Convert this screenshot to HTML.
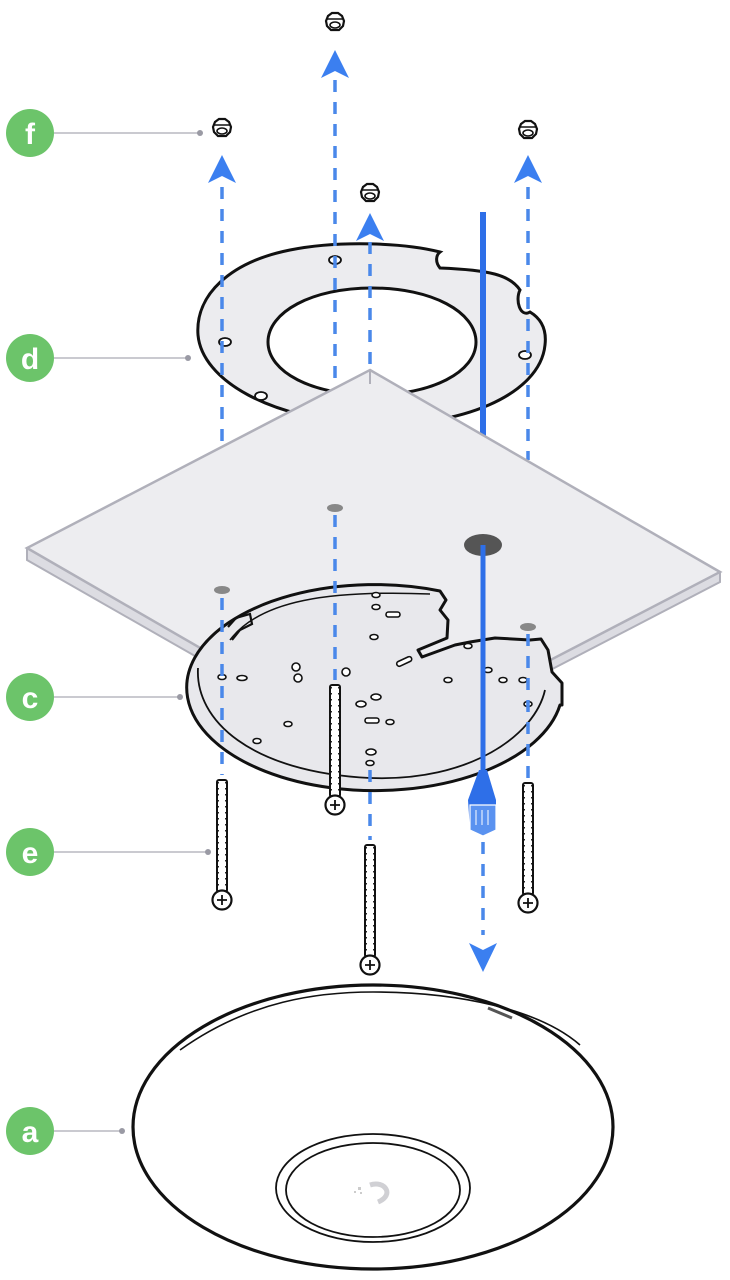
<!DOCTYPE html>
<html><head><meta charset="utf-8"><style>
html,body{margin:0;padding:0;background:#fff;}
svg{display:block;}
.lbl{font-family:"Liberation Sans",sans-serif;font-weight:bold;font-size:30px;fill:#fff;text-anchor:middle;}
</style></head><body>
<svg width="730" height="1280" viewBox="0 0 730 1280" xmlns="http://www.w3.org/2000/svg">
<defs>
<g id="nut">
<path d="M-9,-2 l2,-5 l4,-3 h6 l4,3 l2,5 l-1,5 l-4,4 h-8 l-4,-4z" fill="#fff" stroke="#111" stroke-width="2.2"/>
<ellipse cx="0" cy="2" rx="5" ry="3" fill="#fff" stroke="#111" stroke-width="1.6"/>
<line x1="-8" y1="-4" x2="8" y2="-4" stroke="#111" stroke-width="1.5"/>
</g>
<g id="screw">
<rect x="-5" y="0" width="10" height="112" rx="2" fill="#fff" stroke="#111" stroke-width="2"/>
<line x1="0" y1="2" x2="0" y2="110" stroke="#111" stroke-width="10" stroke-dasharray="1.5 4.5" opacity="0.9"/>
<line x1="0" y1="2" x2="0" y2="110" stroke="#fff" stroke-width="6" stroke-dasharray="3 3"/>
<circle cx="0" cy="120" r="9.5" fill="#fff" stroke="#111" stroke-width="2.2"/>
<path d="M-5,120h10M0,115v10" stroke="#111" stroke-width="1.8"/>
</g>
</defs>

<g stroke="#b8b8c0" stroke-width="1.5">
<line x1="54" y1="133" x2="200" y2="133"/>
<line x1="54" y1="358" x2="188" y2="358"/>
<line x1="54" y1="697" x2="180" y2="697"/>
<line x1="54" y1="852" x2="208" y2="852"/>
<line x1="54" y1="1131" x2="122" y2="1131"/>
</g>
<g fill="#9a9aa4"><circle cx="200" cy="133" r="3"/><circle cx="188" cy="358" r="3"/><circle cx="180" cy="697" r="3"/><circle cx="208" cy="852" r="3"/><circle cx="122" cy="1131" r="3"/></g>
<g fill="#6cc46a">
<circle cx="30" cy="133" r="24"/><circle cx="30" cy="358" r="24"/><circle cx="30" cy="697" r="24"/><circle cx="30" cy="852" r="24"/><circle cx="30" cy="1131" r="24"/>
</g>
<text class="lbl" x="30" y="144">f</text>
<text class="lbl" x="30" y="369">d</text>
<text class="lbl" x="30" y="708">c</text>
<text class="lbl" x="30" y="863">e</text>
<text class="lbl" x="30" y="1142">a</text>

<path fill-rule="evenodd" fill="#ececef" stroke="#111" stroke-width="3" d="M440,252 C405,243 340,240 290,250 C230,262 195,295 198,335 C202,380 270,420 370,424 C460,428 540,395 545,345 C547,328 540,318 530,312 C520,318 515,300 520,290 C510,275 490,270 440,268 C435,262 436,255 440,252 Z M372,288 C312,288 268,312 268,342 C268,372 312,395 372,395 C432,395 476,372 476,342 C476,312 432,288 372,288 Z"/>
<g fill="#fff" stroke="#111" stroke-width="1.8">
<ellipse cx="335" cy="260" rx="6" ry="4"/><ellipse cx="225" cy="342" rx="6" ry="4"/><ellipse cx="261" cy="396" rx="6" ry="4"/><ellipse cx="525" cy="355" rx="6" ry="4"/>
</g>

<g stroke="#4a88ea" stroke-width="3.5" stroke-dasharray="12 10">
<line x1="222" y1="187" x2="222" y2="450"/>
<line x1="335" y1="80" x2="335" y2="400"/>
<line x1="370" y1="242" x2="370" y2="380"/>
<line x1="528" y1="187" x2="528" y2="460"/>
</g>
<g fill="#3b7ff0">
<path d="M222,155 L208,183 L222,176 L236,183Z"/>
<path d="M335,50 L321,78 L335,71 L349,78Z"/>
<path d="M370,213 L356,241 L370,234 L384,241Z"/>
<path d="M528,155 L514,183 L528,176 L542,183Z"/>
</g>
<use href="#nut" x="222" y="129"/><use href="#nut" x="335" y="23"/><use href="#nut" x="370" y="194"/><use href="#nut" x="528" y="131"/>

<line x1="483" y1="212" x2="483" y2="440" stroke="#2e6fe8" stroke-width="6"/>

<path d="M27,548 L27,560 L377,760 L720,582 L720,572 Z" fill="#dcdce2" stroke="#b0b0ba" stroke-width="2"/>
<path d="M370,370 L720,572 L377,750 L27,548 Z" fill="#ededf0" stroke="#b0b0ba" stroke-width="2.5"/>
<path d="M370,370 L370,384" stroke="#b0b0ba" stroke-width="2"/>
<ellipse cx="483" cy="545" rx="19" ry="11" fill="#555"/>
<g fill="#888"><ellipse cx="335" cy="508" rx="8" ry="4"/><ellipse cx="222" cy="590" rx="8" ry="4"/><ellipse cx="528" cy="627" rx="8" ry="4"/></g>

<!-- mounting plate c -->
<path fill="#e8e8ec" stroke="#111" stroke-width="3" stroke-linejoin="round" d="M440,591 A188,103 0 1 0 560,705 L562,705 L562,683 L552,672 L548,650 L541,639 L530,640 L495,638 L470,642 L455,645 L422,657 L418,650 L447,638 L448,620 L440,610 L446,600 Z"/>
<path fill="none" stroke="#111" stroke-width="1.8" d="M198,668 C195,720 250,772 370,778 C470,782 535,735 545,690"/>
<path fill="none" stroke="#111" stroke-width="1.5" d="M230,640 C260,600 330,590 430,594"/>
<path fill="none" stroke="#111" stroke-width="2.2" d="M228,627 L236,618 L250,614 L252,624 L240,630 L232,640"/>
<g fill="#fff" stroke="#111" stroke-width="1.6">
<ellipse cx="376" cy="595" rx="4" ry="2.5"/><ellipse cx="376" cy="607" rx="4" ry="2.5"/><rect x="386" y="612" width="14" height="5" rx="2.5"/><ellipse cx="374" cy="637" rx="4" ry="2.5"/>
<ellipse cx="296" cy="667" rx="4" ry="4"/><ellipse cx="298" cy="678" rx="4" ry="4"/><ellipse cx="346" cy="672" rx="4" ry="4"/><ellipse cx="222" cy="677" rx="4" ry="2.5"/><ellipse cx="242" cy="678" rx="5" ry="2.5"/>
<ellipse cx="376" cy="697" rx="5" ry="3"/><ellipse cx="361" cy="704" rx="5" ry="3"/><rect x="365" y="718" width="14" height="5" rx="2.5"/><ellipse cx="390" cy="722" rx="4" ry="2.5"/><ellipse cx="288" cy="724" rx="4" ry="2.5"/><ellipse cx="257" cy="741" rx="4" ry="2.5"/><ellipse cx="371" cy="752" rx="5" ry="3"/><ellipse cx="370" cy="763" rx="4" ry="2.5"/>
<ellipse cx="468" cy="646" rx="4" ry="2.5"/><ellipse cx="488" cy="670" rx="4" ry="2.5"/><ellipse cx="448" cy="680" rx="4" ry="2.5"/><ellipse cx="503" cy="680" rx="4" ry="2.5"/><ellipse cx="523" cy="680" rx="4" ry="2.5"/><ellipse cx="528" cy="704" rx="4" ry="2.5"/>
<rect x="396" y="659" width="16" height="5" rx="2.5" transform="rotate(-25 404 661)"/>
</g>

<g stroke="#4a88ea" stroke-width="3.5" stroke-dasharray="12 10">
<line x1="222" y1="598" x2="222" y2="775"/>
<line x1="335" y1="515" x2="335" y2="680"/>
<line x1="370" y1="770" x2="370" y2="840"/>
<line x1="528" y1="634" x2="528" y2="780"/>
<line x1="483" y1="842" x2="483" y2="935"/>
</g>
<line x1="483" y1="545" x2="483" y2="780" stroke="#2e6fe8" stroke-width="5"/>
<path d="M479,770 L487,770 L496,800 L496,830 L483,836 L470,830 L468,800Z" fill="#2e6fe8"/>
<path d="M470,805 L496,805 L496,830 L483,836 L470,830Z" fill="#5a92f0" stroke="#fff" stroke-width="1.2"/>
<path d="M476,810v15M482,810v15M488,810v15" stroke="#fff" stroke-width="1"/>
<path d="M483,972 L469,943 L483,950 L497,943Z" fill="#3b7ff0"/>

<use href="#screw" x="222" y="780"/>
<use href="#screw" x="335" y="685"/>
<use href="#screw" x="370" y="845"/>
<use href="#screw" x="528" y="783"/>

<ellipse cx="373" cy="1127" rx="240" ry="142" fill="#fff" stroke="#111" stroke-width="3.2"/>
<path d="M180,1050 C250,1000 320,992 373,992 C460,992 540,1010 580,1045" fill="none" stroke="#111" stroke-width="1.6"/>
<path d="M488,1008 L512,1018" stroke="#555" stroke-width="3"/>
<ellipse cx="373" cy="1188" rx="97" ry="54" fill="#fff" stroke="#111" stroke-width="1.8"/>
<ellipse cx="373" cy="1190" rx="87" ry="47" fill="#fff" stroke="#111" stroke-width="1.8"/>
<path d="M370,1185 C385,1180 395,1195 378,1202" fill="none" stroke="#d0d0d4" stroke-width="5"/>
<g fill="#ccc"><rect x="358" y="1187" width="3" height="3"/><rect x="354" y="1191" width="2" height="2"/><rect x="360" y="1192" width="2" height="2"/></g>
</svg>
</body></html>
